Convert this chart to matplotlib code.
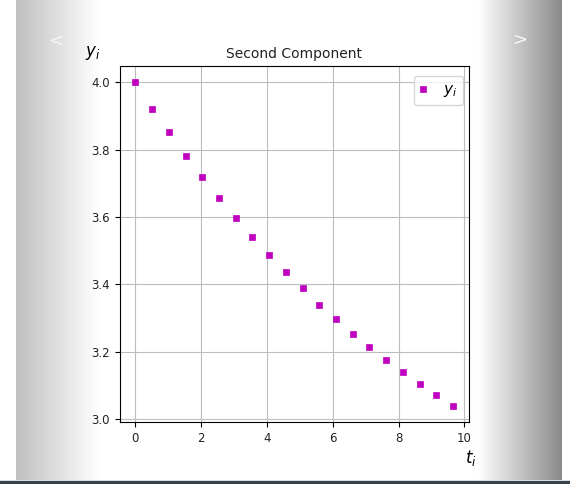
import numpy as np
import matplotlib
matplotlib.use("Agg")
import matplotlib.pyplot as plt
from matplotlib.patches import Rectangle

# sampled times and values of the second component
t = [0.000, 0.508, 1.017, 1.525, 2.034, 2.542, 3.050, 3.560, 4.068, 4.576,
     5.084, 5.592, 6.100, 6.608, 7.116, 7.624, 8.132, 8.640, 9.148, 9.660]
y = [4.000, 3.921, 3.851, 3.782, 3.717, 3.655, 3.596, 3.540, 3.486, 3.436,
     3.388, 3.339, 3.297, 3.253, 3.214, 3.176, 3.139, 3.105, 3.071, 3.039]
x_ticks = [0, 2, 4, 6, 8, 10]
y_ticks = [3.0, 3.2, 3.4, 3.6, 3.8, 4.0]

W, H = 570, 484
plt.rcParams["font.family"] = ["DejaVu Sans"]

fig = plt.figure(figsize=(W / 100, H / 100), dpi=100)

# slider frame: grey side panels with the prev/next arrows
bg = fig.add_axes([0, 0, 1, 1])
bg.imshow(np.linspace(0.75, 1.0, 256)[None, :], cmap="gray", vmin=0, vmax=1,
          extent=(16, 100, 480, 0), aspect="auto")
bg.imshow(np.linspace(1.0, 0.54, 256)[None, :], cmap="gray", vmin=0, vmax=1,
          extent=(478, 562, 480, 0), aspect="auto")
bg.add_patch(Rectangle((0, 480.5), W, 4, color="#33414c"))
bg.text(56, 41, "<", fontsize=13, color="#f6f6f6", ha="center", va="center")
bg.text(520, 40, ">", fontsize=13, color="#f6f6f6", ha="center", va="center")
bg.set_xlim(0, W)
bg.set_ylim(H, 0)
bg.axis("off")

# slightly narrow square marker
rect = [(-0.43, -0.5), (0.43, -0.5), (0.43, 0.5), (-0.43, 0.5), (-0.43, -0.5)]

ax = fig.add_axes([119.5 / W, 62 / H, 349.5 / W, 356 / H])
ax.plot(t, y, linestyle="none", marker=rect, ms=5, mew=0.5, color="m",
        label="$y_i$")
ax.set_xticks(x_ticks)
ax.set_yticks(y_ticks)
ax.tick_params(labelsize=8.5, labelcolor="#222222")
ax.grid(True, color="#bdbdbd")
ax.set_title("Second Component", fontsize=10, color="#222222")

ax.set_ylabel("$y_i$", fontsize=12, rotation=0, ha="center", va="center")
ax.yaxis.set_label_coords(-0.076, 1.037)
ax.set_xlabel("$t_i$", fontsize=12, ha="center", va="center")
ax.xaxis.set_label_coords(1.006, -0.101)

ax.legend(loc="upper right", bbox_to_anchor=(0.983, 0.972), borderaxespad=0,
          fontsize=11, handlelength=0.4, handletextpad=1.1, numpoints=1)

fig.savefig("out.png", dpi=100)
